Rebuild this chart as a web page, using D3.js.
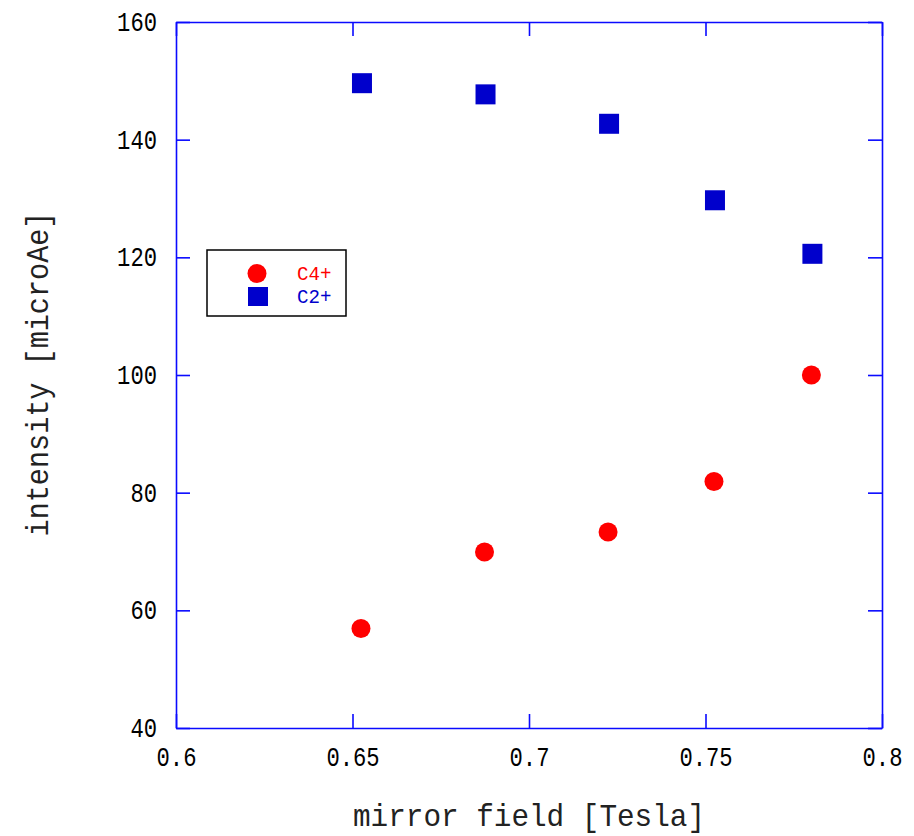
<!DOCTYPE html>
<html>
<head>
<meta charset="utf-8">
<script src="https://cdn.jsdelivr.net/npm/d3@7"></script>
<style>
  html, body { margin: 0; padding: 0; background: #fff; }
  svg { display: block; }
  text { font-family: "Liberation Mono", "DejaVu Sans Mono", monospace; }
</style>
</head>
<body>
<svg id="chart" width="914" height="836"></svg>
<script>
// Mirror field settings [Tesla]
const mirrorField = [0.6524, 0.6874, 0.7224, 0.7524, 0.780];
// Beam intensity [microAe] per charge state
const c4Intensity = [56.9, 69.9, 73.3, 81.9, 100.0];
const c2Intensity = [149.6, 147.7, 142.7, 129.7, 120.6];
// Axis ticks and labels
const xTicks = [0.6, 0.65, 0.7, 0.75, 0.8];
const xTickLabels = ["0.6", "0.65", "0.7", "0.75", "0.8"];
const yTicks = [40, 60, 80, 100, 120, 140, 160];
const yTickLabels = ["40", "60", "80", "100", "120", "140", "160"];
const seriesNames = ["C4+", "C2+"];

const axisColor = "#0a0aff";
const c4Color = "#ff0000";
const c2Color = "#0000cc";

const svg = d3.select("#chart");
const plot = { left: 176, top: 22, right: 882, bottom: 728 };

const x = d3.scaleLinear().domain([0.6, 0.8]).range([plot.left, plot.right]);
const y = d3.scaleLinear().domain([40, 160]).range([plot.bottom, plot.top]);

// monospace half-width look: squeeze glyphs to a fixed advance per character
function squeeze(sel, perChar) {
  sel.attr("textLength", function () { return this.textContent.length * perChar; })
     .attr("lengthAdjust", "spacingAndGlyphs");
}

function styleAxis(g) {
  g.select(".domain").attr("stroke", axisColor).attr("stroke-width", 1.6);
  g.selectAll(".tick line").attr("stroke", axisColor).attr("stroke-width", 1.6);
}

// bottom axis with labels
const gx = svg.append("g")
  .attr("transform", `translate(0,${plot.bottom})`)
  .call(d3.axisBottom(x).tickValues(xTicks).tickSizeInner(-14).tickSizeOuter(0)
    .tickFormat((d, i) => xTickLabels[i]));
styleAxis(gx);
gx.selectAll(".tick text")
  .attr("y", 38).attr("dy", null)
  .attr("font-size", 27).attr("fill", "#000")
  .call(squeeze, 13.3);

// top axis, ticks only
const gxTop = svg.append("g")
  .attr("transform", `translate(0,${plot.top})`)
  .call(d3.axisTop(x).tickValues(xTicks).tickSizeInner(-14).tickSizeOuter(0).tickFormat(""));
styleAxis(gxTop);

// left axis with labels
const gy = svg.append("g")
  .attr("transform", `translate(${plot.left},0)`)
  .call(d3.axisLeft(y).tickValues(yTicks).tickSizeInner(-14).tickSizeOuter(0)
    .tickFormat((d, i) => yTickLabels[i]));
styleAxis(gy);
gy.selectAll(".tick text")
  .attr("x", -19).attr("dy", 8.5)
  .attr("font-size", 27).attr("fill", "#000")
  .call(squeeze, 13.3);

// right axis, ticks only
const gyRight = svg.append("g")
  .attr("transform", `translate(${plot.right},0)`)
  .call(d3.axisRight(y).tickValues(yTicks).tickSizeInner(-14).tickSizeOuter(0).tickFormat(""));
styleAxis(gyRight);

// axis titles
svg.append("text")
  .attr("x", 529).attr("y", 826)
  .attr("text-anchor", "middle")
  .attr("font-size", 32).attr("fill", "#222")
  .text("mirror field [Tesla]")
  .call(squeeze, 17.6);

svg.append("text")
  .attr("transform", "translate(48,374) rotate(-90)")
  .attr("text-anchor", "middle")
  .attr("font-size", 32).attr("fill", "#222")
  .text("intensity [microAe]")
  .call(squeeze, 17.1);

// C4+ markers: filled circles
svg.append("g").selectAll("circle")
  .data(mirrorField.map((f, i) => [f, c4Intensity[i]]))
  .join("circle")
  .attr("cx", d => x(d[0]))
  .attr("cy", d => y(d[1]))
  .attr("r", 9.5)
  .attr("fill", c4Color);

// C2+ markers: filled squares
const sq = 20;
svg.append("g").selectAll("rect")
  .data(mirrorField.map((f, i) => [f, c2Intensity[i]]))
  .join("rect")
  .attr("x", d => x(d[0]) - sq / 2 + 1)
  .attr("y", d => y(d[1]) - sq / 2)
  .attr("width", sq)
  .attr("height", sq)
  .attr("fill", c2Color);

// legend
const legend = svg.append("g");
legend.append("rect")
  .attr("x", 207).attr("y", 250).attr("width", 139).attr("height", 66)
  .attr("fill", "#fff").attr("stroke", "#000").attr("stroke-width", 1.5);
legend.append("circle")
  .attr("cx", 257).attr("cy", 273.5).attr("r", 9.5).attr("fill", c4Color);
legend.append("rect")
  .attr("x", 248).attr("y", 287).attr("width", 20).attr("height", 19).attr("fill", c2Color);
legend.append("text")
  .attr("x", 297).attr("y", 280)
  .attr("font-size", 20).attr("fill", c4Color)
  .text(seriesNames[0]).call(squeeze, 11.5);
legend.append("text")
  .attr("x", 297).attr("y", 302.5)
  .attr("font-size", 20).attr("fill", c2Color)
  .text(seriesNames[1]).call(squeeze, 11.5);
</script>
</body>
</html>
